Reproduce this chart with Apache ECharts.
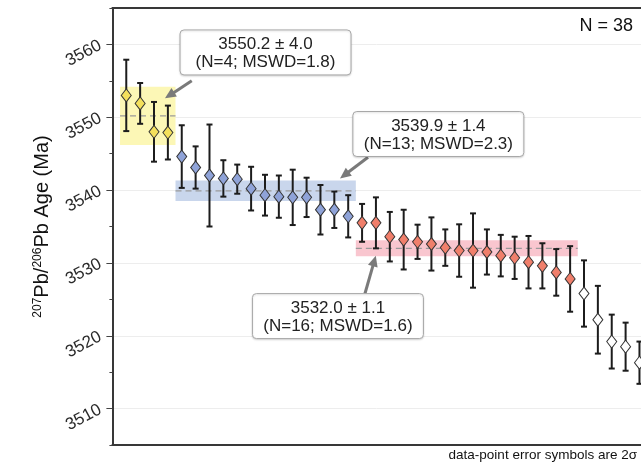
<!DOCTYPE html>
<html><head><meta charset="utf-8">
<script src="https://cdn.jsdelivr.net/npm/echarts@6/dist/echarts.min.js"></script>
<style>html,body{margin:0;padding:0;background:#fff}#c{width:641px;height:464px}</style>
</head><body><div id="c"></div>
<script>
// 207Pb/206Pb ages (Ma) and 2-sigma errors, in plotted order
const ages = [3553.0, 3551.9, 3548.0, 3547.9, 3544.6, 3543.1, 3542.0, 3541.6, 3541.5, 3540.2,
  3539.3, 3539.1, 3539.0, 3539.0, 3537.3, 3537.3, 3536.4, 3535.5, 3535.5, 3533.6,
  3533.2, 3532.9, 3532.6, 3532.1, 3531.7, 3531.7, 3531.5, 3531.0, 3530.7, 3530.1,
  3529.6, 3528.7, 3527.8, 3525.8, 3522.2, 3519.2, 3518.5, 3516.3];
const errors2s = [4.9, 2.8, 4.1, 3.7, 4.3, 2.9, 7.0, 2.5, 2.0, 3.0,
  2.8, 2.9, 3.8, 2.7, 3.4, 2.5, 2.9, 2.6, 3.5, 3.4,
  4.1, 2.35, 3.65, 2.5, 3.6, 5.1, 3.1, 2.85, 2.9, 3.6,
  3.1, 3.2, 4.5, 4.55, 4.65, 3.7, 3.3, 2.9];
// group of each point: 0 yellow, 1 blue, 2 red, 3 unassigned
const pointGroup = [0,0,0,0, 1,1,1,1,1,1,1,1,1,1,1,1,1, 2,2,2,2,2,2,2,2,2,2,2,2,2,2,2,2, 3,3,3,3,3];
// weighted-mean groups
const groupFirst = [1, 5, 18];
const groupLast = [4, 17, 33];
const groupMean = [3550.2, 3539.9, 3532.0];
const groupErr = [4.0, 1.4, 1.1];
const groupN = [4, 13, 16];
const groupMSWD = ['1.8', '2.3', '1.6'];
// annotation anchors in data coordinates
const boxCenter = [[11.04, 3558.9], [23.5, 3547.7], [16.26, 3522.7]];
const arrowFrom = [[5.72, 3555.0], [18.43, 3544.5], [18.21, 3525.8]];
const arrowTo = [[3.79, 3552.6], [16.41, 3541.6], [18.99, 3531.0]];
const yTicks = [3510, 3520, 3530, 3540, 3550, 3560];
const yMinorTicks = [3505, 3515, 3525, 3535, 3545, 3555, 3565];
const xRange = [0, 38.11];

const fillColors = ['#f4e05c', '#8fa3d8', '#f07f6b', '#ffffff'];
const bandColors = ['#fcf7b6', '#c9d6ec', '#f9c6cf'];
const FONT = '"Liberation Sans", Arial, sans-serif';

const chart = echarts.init(document.getElementById('c'), null, {renderer: 'canvas'});

const pointData = ages.map((a, i) => [i + 1, a]);
const errData = ages.map((a, i) => [i + 1, a - errors2s[i], a + errors2s[i]]);
const bandData = groupMean.map((m, g) => [groupFirst[g] - 0.45, groupLast[g] + 0.55, m - groupErr[g], m + groupErr[g], m]);
const annData = boxCenter.map((b, k) => [b[0], b[1], arrowFrom[k][0], arrowFrom[k][1], arrowTo[k][0], arrowTo[k][1]]);
const annText = groupMean.map((m, g) => m.toFixed(1) + ' \u00b1 ' + groupErr[g].toFixed(1) + '\n(N=' + groupN[g] + '; MSWD=' + groupMSWD[g] + ')');

const frameLine = {show: true, lineStyle: {color: '#383838', width: 2}};

chart.setOption({
  animation: false,
  grid: {left: 112.4, right: 0, top: 8, bottom: 19, show: false},
  xAxis: [
    {type: 'value', min: xRange[0], max: xRange[1], position: 'bottom', axisLine: frameLine,
      axisTick: {show: false}, axisLabel: {show: false}, splitLine: {show: false}},
    {type: 'value', min: xRange[0], max: xRange[1], position: 'top', axisLine: frameLine,
      axisTick: {show: false}, axisLabel: {show: false}, splitLine: {show: false}}
  ],
  yAxis: [
    {type: 'value', min: 3505, max: 3565, position: 'left',
      axisLine: {show: false},
      axisTick: {show: true, length: 3, customValues: yMinorTicks, lineStyle: {color: '#444'}},
      axisLabel: {show: false}, splitLine: {show: false}},
    {type: 'value', min: 3505, max: 3565, position: 'left',
      axisLine: frameLine,
      axisTick: {show: true, length: 6, customValues: yTicks, lineStyle: {color: '#444'}},
      axisLabel: {customValues: yTicks, rotate: 28, margin: 12, fontSize: 17, color: '#2a2a2a', fontFamily: FONT,
        formatter: function (v) { return String(v); }},
      splitLine: {show: true, lineStyle: {color: '#ededed', width: 1}},
      name: '{sup|207}Pb/{sup|206}Pb Age (Ma)', nameLocation: 'middle', nameGap: 58, nameRotate: 90,
      nameTextStyle: {fontSize: 20, fontFamily: FONT, color: '#111',
        rich: {sup: {fontSize: 12, fontFamily: FONT, color: '#111', padding: [0, 0, 9, 0]}}}}
  ],
  graphic: [
    {type: 'text', right: 8, top: 17, style: {text: 'N = ' + ages.length, font: '18px ' + FONT, fill: '#111'}},
    {type: 'text', right: 4, top: 448, style: {text: 'data-point error symbols are 2\u03c3', font: '13.5px ' + FONT, fill: '#111'}}
  ],
  series: [
    {type: 'custom', z: 1, yAxisIndex: 1, data: bandData, silent: true,
      renderItem: function (params, api) {
        const p0 = api.coord([api.value(0), api.value(3)]);
        const p1 = api.coord([api.value(1), api.value(2)]);
        const pm0 = api.coord([api.value(0), api.value(4)]);
        const pm1 = api.coord([api.value(1), api.value(4)]);
        return {type: 'group', children: [
          {type: 'rect', shape: {x: p0[0], y: p0[1], width: p1[0] - p0[0], height: p1[1] - p0[1]},
            style: {fill: bandColors[params.dataIndex]}},
          {type: 'line', shape: {x1: pm0[0], y1: pm0[1], x2: pm1[0], y2: pm1[1]},
            style: {stroke: '#9a9a9a', lineWidth: 1.2, lineDash: [6, 4]}}
        ]};
      }},
    {type: 'custom', z: 2, yAxisIndex: 1, data: errData, silent: true,
      renderItem: function (params, api) {
        const top = api.coord([api.value(0), api.value(2)]);
        const bot = api.coord([api.value(0), api.value(1)]);
        const cw = 3;
        const st = {stroke: '#1c1c1c', lineWidth: 2};
        return {type: 'group', children: [
          {type: 'line', shape: {x1: top[0], y1: top[1], x2: bot[0], y2: bot[1]}, style: st},
          {type: 'line', shape: {x1: top[0] - cw, y1: top[1], x2: top[0] + cw, y2: top[1]}, style: st},
          {type: 'line', shape: {x1: bot[0] - cw, y1: bot[1], x2: bot[0] + cw, y2: bot[1]}, style: st}
        ]};
      }},
    {type: 'scatter', z: 3, yAxisIndex: 1, data: pointData, symbol: 'diamond', symbolSize: [10, 13], silent: true,
      itemStyle: {color: function (p) { return fillColors[pointGroup[p.dataIndex]]; }, borderColor: '#333', borderWidth: 1, opacity: 1}},
    {type: 'custom', z: 4, yAxisIndex: 1, data: annData, silent: true, clip: false,
      renderItem: function (params, api) {
        const c = api.coord([api.value(0), api.value(1)]);
        const f = api.coord([api.value(2), api.value(3)]);
        const t = api.coord([api.value(4), api.value(5)]);
        const w = 171, h = 45;
        const dx = t[0] - f[0], dy = t[1] - f[1];
        const L = Math.sqrt(dx * dx + dy * dy), ux = dx / L, uy = dy / L;
        const hl = 11, hw = 5;
        const bx = t[0] - ux * hl, by = t[1] - uy * hl;
        return {type: 'group', children: [
          {type: 'line', shape: {x1: f[0], y1: f[1], x2: bx + ux * 2, y2: by + uy * 2}, style: {stroke: '#7a7a7a', lineWidth: 3}},
          {type: 'polygon', shape: {points: [[t[0], t[1]], [bx - uy * hw, by + ux * hw], [bx + uy * hw, by - ux * hw]]}, style: {fill: '#7a7a7a'}},
          {type: 'rect', shape: {x: c[0] - w / 2, y: c[1] - h / 2, width: w, height: h, r: 4},
            style: {fill: '#ffffff', stroke: '#a8a8a8', lineWidth: 1, shadowBlur: 2, shadowColor: 'rgba(0,0,0,0.15)', shadowOffsetY: 1}},
          {type: 'text', x: c[0], y: c[1] + 1,
            style: {text: annText[params.dataIndex], font: '17px ' + FONT, fill: '#222', align: 'center', verticalAlign: 'middle', lineHeight: 18}}
        ]};
      }}
  ]
});
</script></body></html>
